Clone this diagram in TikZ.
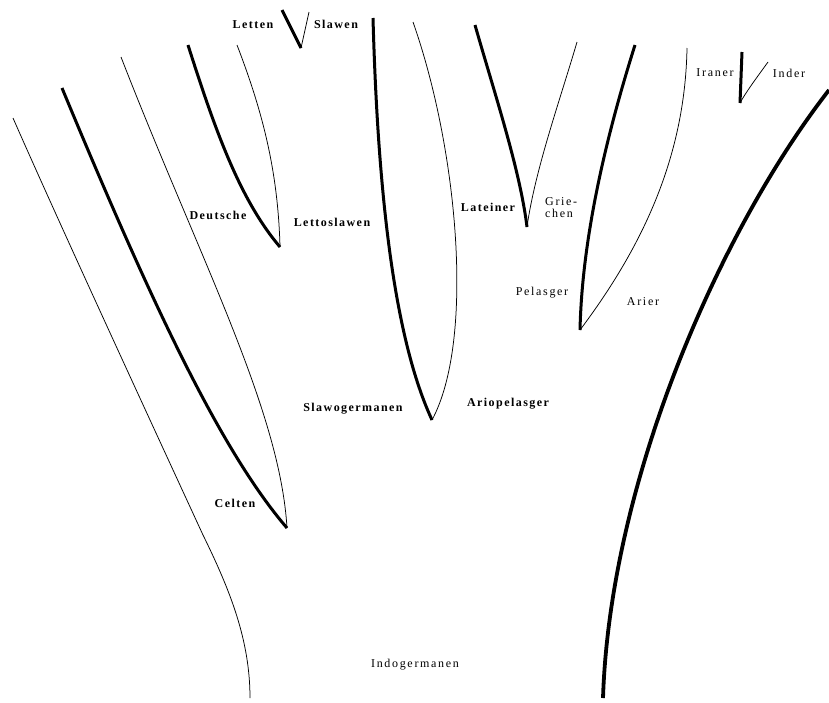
\documentclass[tikz,border=0pt]{standalone}
\usepackage{fontspec}
\setmainfont{Liberation Serif}
\newfontfamily\labfont[LetterSpace=12]{Liberation Serif}
\newfontfamily\lablfont[LetterSpace=14]{Liberation Serif}
\begin{document}
\begin{tikzpicture}[x=1pt,y=-1pt,
  thickbranch/.style={line width=3pt,line cap=butt,line join=miter},
  thinbranch/.style={line width=0.75pt},
  trunkthick/.style={line width=3.8pt},
  lab/.style={font=\labfont\fontsize{12}{12}\selectfont\bfseries,inner sep=0pt},
  labl/.style={font=\lablfont\fontsize{12}{12}\selectfont,inner sep=0pt}]
\useasboundingbox (0,0) rectangle (829,702);
\fill[white] (0,0) rectangle (829,702);
% named points
\coordinate (tl) at (13,118);
\coordinate (j1) at (203,535);
\coordinate (bl) at (250,698);
\coordinate (celtTop) at (62,88);
\coordinate (celtTip) at (287,528);
\coordinate (sgLeftTop) at (121,57);
\coordinate (deuTop) at (188,45);
\coordinate (lsTop) at (237,45);
\coordinate (dlTip) at (280,247);
\coordinate (letTop) at (282,10);
\coordinate (slTop) at (309,12);
\coordinate (lsTip) at (301,48);
\coordinate (sgTop) at (373,18);
\coordinate (apTop) at (413,22);
\coordinate (sgTip) at (432,420);
\coordinate (latTop) at (475,25);
\coordinate (grTop) at (577,42);
\coordinate (lgTip) at (527,227);
\coordinate (pelTop) at (635,45);
\coordinate (arTop) at (687,48);
\coordinate (paTip) at (580,330);
\coordinate (irTop) at (742,52);
\coordinate (inTop) at (768,62);
\coordinate (iiTip) at (740,103);
\coordinate (trTop) at (829,90);
\coordinate (br) at (603,698);
% branches
\draw[thinbranch] (tl) .. controls (60,225) and (150,420) .. (j1) .. controls (230,590) and (250,640) .. (bl);
\draw[thickbranch] (celtTop) .. controls (150,300) and (220,450) .. (celtTip);
\draw[thinbranch] (sgLeftTop) .. controls (200,260) and (280,410) .. (celtTip);
\draw[thickbranch] (deuTop) .. controls (215,130) and (240,200) .. (dlTip);
\draw[thinbranch] (lsTop) .. controls (262,110) and (278,170) .. (dlTip);
\draw[thickbranch] (letTop) -- (lsTip);
\draw[thinbranch] (slTop) -- (lsTip);
\draw[thickbranch] (sgTop) .. controls (378,200) and (395,340) .. (sgTip);
\draw[thinbranch] (apTop) .. controls (458,150) and (475,340) .. (sgTip);
\draw[thickbranch] (latTop) .. controls (495,95) and (520,170) .. (lgTip);
\draw[thinbranch] (grTop) .. controls (560,100) and (535,170) .. (lgTip);
\draw[thickbranch] (pelTop) .. controls (605,140) and (582,240) .. (paTip);
\draw[thinbranch] (arTop) .. controls (685,160) and (640,250) .. (paTip);
\draw[thickbranch] (irTop) -- (iiTip);
\draw[thinbranch] (inTop) .. controls (755,80) and (746,92) .. (iiTip);
\draw[trunkthick] (trTop) .. controls (720,230) and (610,480) .. (br);
% labels
\node[lab] (letten) at (253,25) {Letten};
\node[lab] (slawen) at (336,24) {Slawen};
\node[lab] (deutsche) at (218,215) {Deutsche};
\node[lab] (lettoslawen) at (332,222) {Lettoslawen};
\node[lab] (lateiner) at (488,207) {Lateiner};
\node[labl,align=left,anchor=west] (griechen) at (545,208) {Grie-\\chen};
\node[labl] (pelasger) at (542,293) {Pelasger};
\node[labl] (arier) at (643,302) {Arier};
\node[labl] (iraner) at (715,73) {Iraner};
\node[labl] (inder) at (789,73) {Inder};
\node[lab] (slawogermanen) at (353,409) {Slawogermanen};
\node[lab] (ariopelasger) at (508,404) {Ariopelasger};
\node[lab] (celten) at (235,503) {Celten};
\node[labl] (indogermanen) at (415,665) {Indogermanen};
\end{tikzpicture}
\end{document}
